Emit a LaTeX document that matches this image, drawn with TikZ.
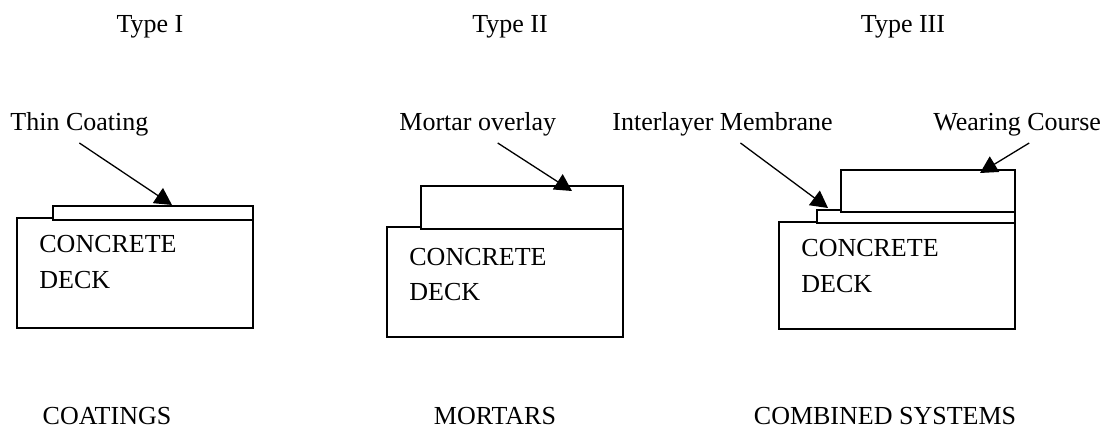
\documentclass[tikz,border=0pt]{standalone}
\usepackage{fontspec}
\setmainfont{Liberation Serif}
\usetikzlibrary{calc, arrows.meta, positioning}

\tikzset{
	slab/.style={line width=1pt, fill=white},
	pointer/.style={line width=0.65pt, -{Triangle[length=8.5pt, width=9pt]}},
	lbl/.style={inner sep=0pt, anchor=base west},
	ttl/.style={inner sep=0pt, anchor=base}
}

\begin{document}
\begin{tikzpicture}[x=0.5pt, y=-0.5pt, font=\fontsize{13}{15}\selectfont]
	\useasboundingbox (0,0) rectangle (1112,431);
	
	% Type I
	\node[ttl] (type1) at (150,33) {Type I};
	\draw[slab] (17,218) rectangle (253,328);
	\draw[slab] (53,206) coordinate (coat) rectangle (253,220);
	\node[lbl] (deck1a) at (39,253) {CONCRETE};
	\node[lbl] (deck1b) at (39,289) {DECK};
	\node[lbl] (thin) at (10,131) {Thin Coating};
	\coordinate (c1) at (172,205);
	\draw[pointer] ([yshift=-3pt]thin.south) -- (c1);
	\node[ttl] (name1) at (107,425) {COATINGS};
	
	% Type II
	\node[ttl] (type2) at (510,33) {Type II};
	\draw[slab] (387,227) rectangle (623,337);
	\draw[slab] (421,186) coordinate (overlay) rectangle (623,229);
	\node[lbl] (deck2a) at (409,266) {CONCRETE};
	\node[lbl] (deck2b) at (409,301) {DECK};
	\node[lbl] (mortar) at (399,131) {Mortar overlay};
	\coordinate (c2) at (572,191);
	\draw[pointer] ([xshift=10pt, yshift=-3pt]mortar.south) -- (c2);
	\node[ttl] (name2) at (495,425) {MORTARS};
	
	% Type III
	\node[ttl] (type3) at (903,33) {Type III};
	\draw[slab] (779,222) rectangle (1015,329);
	\draw[slab] (817,210) coordinate (membr) rectangle (1015,223);
	\draw[slab] (841,170) coordinate (wear) rectangle (1015,212);
	\node[lbl] (deck3a) at (801,257) {CONCRETE};
	\node[lbl] (deck3b) at (801,293) {DECK};
	\node[lbl] (inter) at (612,131) {Interlayer Membrane};
	\node[lbl] (course) at (933,131) {Wearing Course};
	\coordinate (c3) at (828,208);
	\coordinate (c4) at (980,173);
	\draw[pointer] ([xshift=9pt, yshift=-3pt]inter.south) -- (c3);
	\draw[pointer] ([xshift=6pt, yshift=-3pt]course.south) -- (c4);
	\node[ttl] (name3) at (885,425) {COMBINED SYSTEMS};

\end{tikzpicture}
\end{document}
